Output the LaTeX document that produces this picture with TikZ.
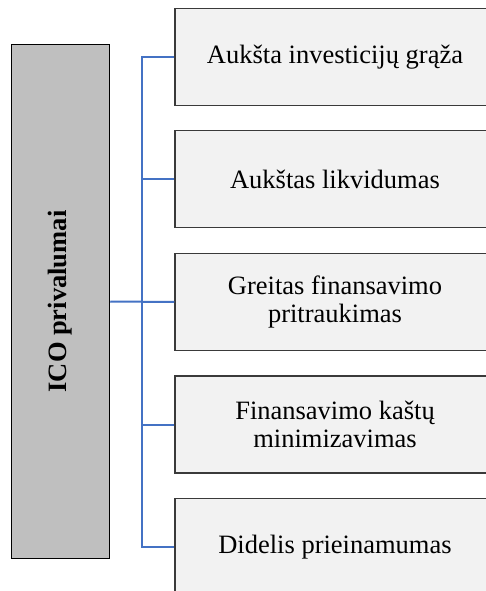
\documentclass[tikz,border=0pt]{standalone}
\usepackage{fontspec}
\setmainfont{Liberation Serif}
\definecolor{lnblue}{HTML}{4472C4}
\definecolor{boxfill}{HTML}{F2F2F2}
\definecolor{leftfill}{HTML}{BFBFBF}
\definecolor{boxline}{HTML}{3A3A3A}
\begin{document}
\begin{tikzpicture}[x=1pt,y=-1pt,
  item/.style={draw=boxline, line width=1.5pt, fill=boxfill, rectangle,
    minimum width=320pt, minimum height=97pt, inner sep=0pt, align=center,
    font=\fontsize{26.5}{28.5}\selectfont},
  mainbox/.style={draw=black, line width=1.5pt, fill=leftfill, rectangle,
    minimum width=98pt, minimum height=514pt, inner sep=0pt},
  conn/.style={draw=lnblue, line width=2pt}]
\useasboundingbox (0,0) rectangle (486,591);
\clip (0,0) rectangle (486,591);
\fill[white] (0,0) rectangle (486,591);
\node[mainbox] (L) at (60.5,301.5) {};
\node[rotate=90, font=\bfseries\fontsize{26.5}{28}\selectfont] (Lt) at (60.5,301.5) {ICO privalumai};
\node[item] (b1) at (335,57) {Aukšta investicijų grąža};
\node[item] (b2) at (335,179) {Aukštas likvidumas};
\node[item] (b3) at (335,302) {Greitas finansavimo\\pritraukimas};
\node[item] (b4) at (335,424.5) {Finansavimo kaštų\\minimizavimas};
\node[item] (b5) at (335,547) {Didelis prieinamumas};
\coordinate (trunk) at (142,302);
\draw[conn] (b1.west) -| (trunk) |- (b5.west);
\draw[conn] (b2.west) -- (b2.west -| trunk);
\draw[conn] (b4.west) -- (b4.west -| trunk);
\draw[conn] (L.east) -- (b3.west);
\end{tikzpicture}
\end{document}
